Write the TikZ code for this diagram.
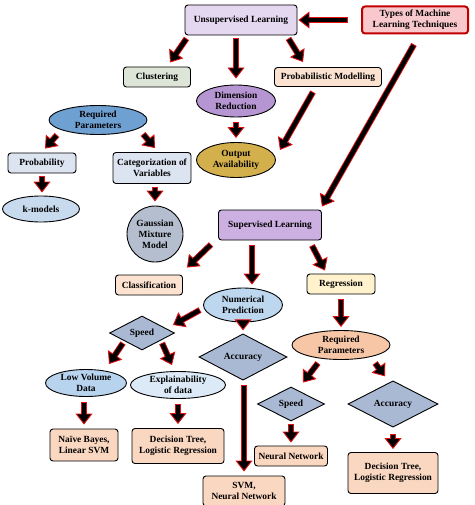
\documentclass[tikz,border=0pt]{standalone}
\usepackage{fontspec}
\setmainfont{Liberation Serif}
\usetikzlibrary{shapes.geometric,arrows.meta}
\definecolor{mlred}{HTML}{C00000}
\definecolor{arrred}{HTML}{E01010}
\definecolor{mltypes}{HTML}{F9C8CC}
\definecolor{mlunsup}{HTML}{E4D7F0}
\definecolor{mlclust}{HTML}{DDE5D8}
\definecolor{mlpeach}{HTML}{FCE2D0}
\definecolor{mldimred}{HTML}{B696D2}
\definecolor{mlreqb}{HTML}{6FA0D2}
\definecolor{mlgold}{HTML}{D4B04C}
\definecolor{mlpale}{HTML}{DCE4F2}
\definecolor{mlkmod}{HTML}{C8DAEE}
\definecolor{mlgauss}{HTML}{B4BECE}
\definecolor{mlsup}{HTML}{CDB0E2}
\definecolor{mlyellow}{HTML}{FFF2CC}
\definecolor{mlnum}{HTML}{BDD7EE}
\definecolor{mldia}{HTML}{A9B8D3}
\definecolor{mlreqr}{HTML}{F7C6A6}
\definecolor{mllowv}{HTML}{B8D3EE}
\definecolor{mlexpl}{HTML}{DCEAF7}
\definecolor{mlresult}{HTML}{FAD7C0}

\tikzset{
  box/.style={draw, line width=0.9pt, rounded corners=3pt, align=center, inner sep=1pt},
  oval/.style={ellipse, draw, line width=0.9pt, align=center, inner sep=0pt},
  dia/.style={diamond, draw, line width=0.9pt, inner sep=0pt, fill=mldia},
  bigarr/.style={draw=arrred, line width=6.2pt,
    -{Triangle[length=11pt,width=17pt,fill=black,line width=0.9pt]},
    postaction={draw=black, line width=4.4pt, -, shorten >=7pt, shorten <=0.9pt}}
}

\begin{document}
\begin{tikzpicture}[x=1pt,y=-1pt,font=\fontsize{9.4}{11}\selectfont\bfseries]
  \useasboundingbox (0,0) rectangle (474,505);

  % unsupervised side
  \node[box, fill=mltypes, draw=mlred, line width=2pt, minimum width=106pt, minimum height=27pt] (types) at (415,20) {Types of Machine\\Learning Techniques};
  \node[box, fill=mlunsup, minimum width=112pt, minimum height=30pt] (unsup) at (241,20) {Unsupervised Learning};
  \node[box, fill=mlclust, minimum width=67pt, minimum height=20pt] (clust) at (157,77) {Clustering};
  \node[box, fill=mlpeach, minimum width=107pt, minimum height=19pt] (probmod) at (328,77) {Probabilistic Modelling};
  \node[oval, fill=mldimred, minimum width=79pt, minimum height=32pt] (dimred) at (236,101) {Dimension\\Reduction};
  \node[oval, fill=mlgold, minimum width=79pt, minimum height=35pt] (output) at (236,160) {Output\\Availability};
  \node[oval, fill=mlreqb, minimum width=98pt, minimum height=29pt] (reqb) at (98,120) {Required\\Parameters};
  \node[box, fill=mlpale, minimum width=68pt, minimum height=20pt] (prob) at (42,163) {Probability};
  \node[box, fill=mlpale, minimum width=78pt, minimum height=31pt] (categ) at (152,168) {Categorization of\\Variables};
  \node[oval, fill=mlkmod, minimum width=77pt, minimum height=26pt] (kmod) at (41,209) {k-models};
  \node[circle, draw, line width=0.9pt, fill=mlgauss, align=center, inner sep=0pt, minimum size=56pt] (gauss) at (155,234) {Gaussian\\Mixture\\Model};

  % supervised side
  \node[box, fill=mlsup, minimum width=103pt, minimum height=30pt] (sup) at (270,225) {Supervised Learning};
  \node[box, fill=mlpeach, minimum width=67pt, minimum height=20pt] (class) at (149,285) {Classification};
  \node[box, fill=mlyellow, minimum width=68pt, minimum height=20pt] (reg) at (341,284) {Regression};
  \node[oval, fill=mlnum, minimum width=79pt, minimum height=34pt] (num) at (243,305) {Numerical\\Prediction};
  \node[dia, minimum width=65pt, minimum height=34pt] (speedL) at (142,333) {Speed};
  \node[dia, minimum width=88pt, minimum height=33pt] (accC) at (243,357) {Accuracy};
  \node[oval, fill=mlreqr, minimum width=98pt, minimum height=29pt] (reqr) at (341,345) {Required\\Parameters};
  \node[oval, fill=mllowv, minimum width=81pt, minimum height=27pt] (lowv) at (86,383) {Low Volume\\Data};
  \node[oval, fill=mlexpl, minimum width=95pt, minimum height=27pt] (expl) at (178,385) {Explainability\\of data};
  \node[dia, minimum width=67pt, minimum height=34pt] (speedR) at (291,404) {Speed};
  \node[dia, minimum width=90pt, minimum height=34pt] (accR) at (393,404) {Accuracy};
  \node[box, fill=mlresult, minimum width=68pt, minimum height=32pt] (naive) at (84,445) {Na\"ive Bayes,\\Linear SVM};
  \node[box, fill=mlresult, minimum width=92pt, minimum height=35pt] (dtL) at (178,446) {Decision Tree,\\Logistic Regression};
  \node[box, fill=mlresult, minimum width=73pt, minimum height=20pt] (nn) at (291,456) {Neural Network};
  \node[box, fill=mlresult, minimum width=90pt, minimum height=41pt] (dtR) at (393,473) {Decision Tree,\\Logistic Regression};
  \node[box, fill=mlresult, minimum width=82pt, minimum height=30pt] (svm) at (244,491) {SVM,\\Neural Network};

  % arrows
  \draw[bigarr] ([xshift=-13pt]types.west) -- ([xshift=1pt]unsup.east);
  \draw[bigarr] ([xshift=-1pt,yshift=-10pt]types.south) -- ([yshift=3pt]sup.north east);
  \draw[bigarr] ([xshift=2pt,yshift=-3pt]unsup.south west) -- ([xshift=13pt,yshift=4pt]clust.north);
  \draw[bigarr] ([xshift=-5pt,yshift=-3pt]unsup.south) -- ([yshift=6pt]dimred.north);
  \draw[bigarr] ([xshift=-9pt,yshift=-3pt]unsup.south east) -- ([xshift=-25pt,yshift=5pt]probmod.north);
  \draw[bigarr] ([xshift=-15pt,yshift=-5pt]probmod.south) -- ([xshift=4pt,yshift=10pt]output.east);
  \draw[bigarr] ([yshift=-5pt]dimred.south) -- ([yshift=4pt]output.north);
  \draw[bigarr] ([xshift=-41pt,yshift=-15pt]reqb.center) -- ([xshift=3pt,yshift=4pt]prob.north);
  \draw[bigarr] ([xshift=45pt,yshift=-14pt]reqb.center) -- ([xshift=3pt,yshift=4pt]categ.north);
  \draw[bigarr] ([yshift=-3pt]prob.south) -- ([xshift=1pt,yshift=3pt]kmod.north);
  \draw[bigarr] ([xshift=3pt,yshift=-3pt]categ.south) -- ([yshift=4pt]gauss.north);

  \draw[bigarr] ([xshift=-7pt,yshift=-4pt]sup.south west) -- ([xshift=4pt,yshift=7pt]class.north east);
  \draw[bigarr] ([xshift=-18pt,yshift=-5pt]sup.south) -- ([xshift=9pt,yshift=3pt]num.north);
  \draw[bigarr] ([xshift=-10pt,yshift=-5pt]sup.south east) -- ([xshift=-16pt,yshift=3pt]reg.north);
  \draw[bigarr] ([yshift=-5pt]reg.south) -- ([yshift=3pt]reqr.north);
  \draw[bigarr] ([xshift=-3pt,yshift=-5pt]num.west) -- ([xshift=-2pt,yshift=8pt]speedL.east);
  \draw[bigarr] ([yshift=-2pt]num.south) -- ([yshift=3pt]accC.north);
  \draw[bigarr] ([xshift=-19pt,yshift=-10pt]speedL.center) -- ([xshift=23pt,yshift=5pt]lowv.north);
  \draw[bigarr] ([xshift=20pt,yshift=-10pt]speedL.center) -- ([xshift=-6pt,yshift=6pt]expl.north);
  \draw[bigarr] ([xshift=1pt,yshift=-4pt]accC.south) -- ([yshift=4pt]svm.north);
  \draw[bigarr] ([xshift=-23pt,yshift=-18pt]reqr.center) -- ([xshift=12pt,yshift=4pt]speedR.north);
  \draw[bigarr] ([xshift=34pt,yshift=-18pt]reqr.center) -- ([xshift=-8pt,yshift=4pt]accR.north);
  \draw[bigarr] ([xshift=-2pt,yshift=-5pt]lowv.south) -- ([yshift=4pt]naive.north);
  \draw[bigarr] ([yshift=-5pt]expl.south) -- ([yshift=4pt]dtL.north);
  \draw[bigarr] ([yshift=-3pt]speedR.south) -- ([yshift=3pt]nn.north);
  \draw[bigarr] ([yshift=-6pt]accR.south) -- ([yshift=3pt]dtR.north);
\end{tikzpicture}
\end{document}
